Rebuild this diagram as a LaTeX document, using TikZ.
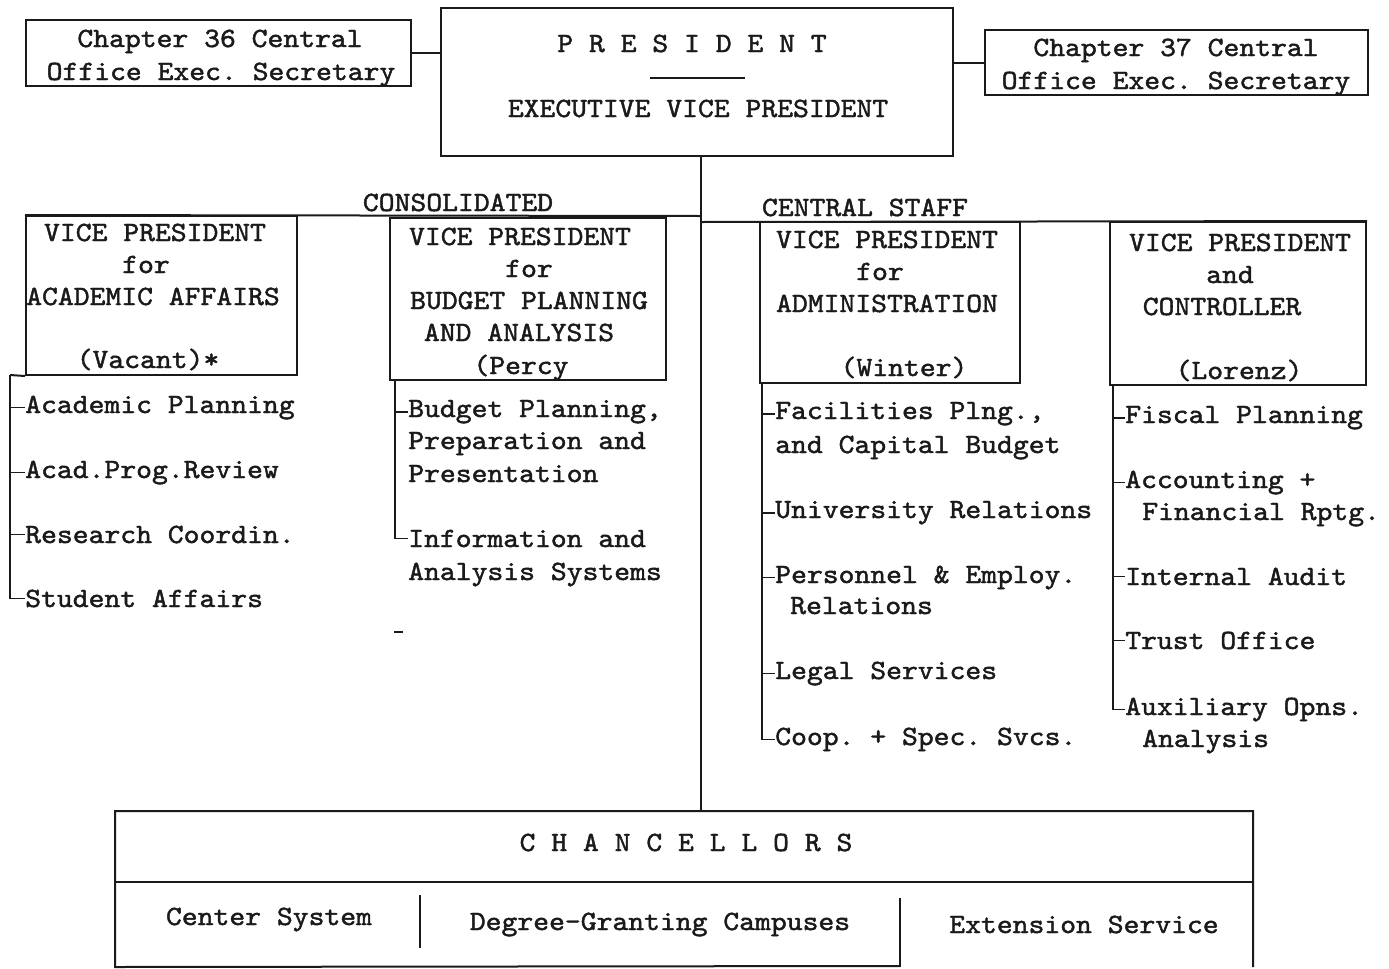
\documentclass[tikz,border=0pt]{standalone}
\usepackage{fontspec}
\newfontfamily\twf{lmmono10-regular}[Extension=.otf, FakeStretch=1.083, FakeBold=1.6]
\usetikzlibrary{fit}
\definecolor{inkc}{HTML}{1A1A1A}
\newcommand\typew{\twf\fontsize{20.9}{24}\selectfont\frenchspacing}
\tikzset{
  ink/.style={draw=inkc, line width=1.5pt},
  box/.style={ink, rectangle, inner sep=0pt},
  t/.style={font=\typew, text=inkc, inner sep=0pt, anchor=base},
  tl/.style={t, anchor=base west},
  tick/.style={draw=inkc, line width=1.3pt},
}
\begin{document}
\frenchspacing
\begin{tikzpicture}[x=0.75pt,y=-0.75pt]
\fill[white] (0,0) rectangle (1389,968);
\useasboundingbox (0,0) rectangle (1389,968);

% top boxes
\node[box, fit={(26,20) (411,86)}] (ch36) {};
\node[t] (ch36a) at (220,47) {Chapter 36 Central};
\node[t] (ch36b) at (221,80) {Office Exec. Secretary};

\node[box, fit={(441,8) (953,156)}] (pres) {};
\node[t] (presa) at (692,52) {P R E S I D E N T};
\draw[ink] (650,78) -- (745,78);
\node[t] (presb) at (698,117) {EXECUTIVE VICE PRESIDENT};

\node[box, fit={(985,30) (1368,95)}] (ch37) {};
\node[t] (ch37a) at (1176,56) {Chapter 37 Central};
\node[t] (ch37b) at (1176,89) {Office Exec. Secretary};

\draw[ink] (ch36.east) -- (ch36.east -| pres.west);
\draw[ink] (ch37.west) -- (ch37.west -| pres.east);

% group labels
\node[t] (cons) at (458,211) {CONSOLIDATED};
\node[t] (cstaff) at (865,216) {CENTRAL STAFF};

% VP boxes
\node[box, fit={(26,216) (297,375)}] (vpa) {};
\node[t] (vpa1) at (155,241) {VICE PRESIDENT};
\node[t] (vpa2) at (146,273) {for};
\node[t] (vpa3) at (153,305) {ACADEMIC AFFAIRS};
\node[t] (vpa4) at (148,368) {(Vacant)*};

\node[box, fit={(390,218) (666,380)}] (vpb) {};
\node[t] (vpb1) at (520,245) {VICE PRESIDENT};
\node[t] (vpb2) at (529,277) {for};
\node[t] (vpb3) at (529,309) {BUDGET PLANNING};
\node[t] (vpb4) at (519,341) {AND ANALYSIS};
\node[t] (vpb5) at (521,374) {(Percy};

\node[box, fit={(760,222) (1020,383)}] (vpc) {};
\node[t] (vpc1) at (887,248) {VICE PRESIDENT};
\node[t] (vpc2) at (880,280) {for};
\node[t] (vpc3) at (887,312) {ADMINISTRATION};
\node[t] (vpc4) at (904,376) {(Winter)};

\node[box, fit={(1110,222) (1366,385)}] (vpd) {};
\node[t] (vpd1) at (1240,251) {VICE PRESIDENT};
\node[t] (vpd2) at (1230,283) {and};
\node[t] (vpd3) at (1222,315) {CONTROLLER};
\node[t] (vpd4) at (1239,379) {(Lorenz)};

% trunk and bars
\coordinate (jl) at (701,216);
\coordinate (jr) at (701,222);
\node[box, draw=none, fit={(116,812) (1252,966)}] (chanc) {};
\draw[ink] (pres.south -| jl) -- (chanc.north -| jl);
\draw[ink] (vpa.north west) -- (jl);
\draw[ink] (jr) -- (vpd.north east);

% list A
\coordinate (la) at (10,375);
\node[tl] (a1) at (25,413) {Academic Planning};
\node[tl] (a2) at (25,478) {Acad.Prog.Review};
\node[tl] (a3) at (25,543) {Research Coordin.};
\node[tl] (a4) at (25,607) {Student Affairs};
\draw[ink] (vpa.south west) -- (la);
\draw[tick] (la) -- (la |- a4.west) -- (a4.west);
\foreach \n in {a1,a2,a3} \draw[tick] (la |- \n.west) -- (\n.west);

% list B
\coordinate (lb) at (395,380);
\node[tl] (b1) at (408,417) {Budget Planning,};
\node[tl] (b1b) at (408,449) {Preparation and};
\node[tl] (b1c) at (408,482) {Presentation};
\node[tl] (b2) at (408,547) {Information and};
\node[tl] (b2b) at (408,580) {Analysis Systems};
\draw[tick] (lb) -- (lb |- b2.west) -- (b2.west);
\draw[tick] (lb |- b1.west) -- (b1.west);
\draw[tick] (394,632) -- (403,632);

% list C
\coordinate (lc) at (762,383);
\node[tl] (c1) at (775,419) {Facilities Plng.,};
\node[tl] (c1b) at (775,453) {and Capital Budget};
\node[tl] (c2) at (775,518) {University Relations};
\node[tl] (c3) at (775,583) {Personnel \& Employ.};
\node[tl] (c3b) at (790,614) {Relations};
\node[tl] (c4) at (775,679) {Legal Services};
\node[tl] (c5) at (775,745) {Coop. + Spec. Svcs.};
\draw[tick] (lc) -- (lc |- c5.west) -- (c5.west);
\foreach \n in {c1,c2,c3,c4} \draw[tick] (lc |- \n.west) -- (\n.west);

% list D
\coordinate (ld) at (1113,385);
\node[tl] (d1) at (1125,423) {Fiscal Planning};
\node[tl] (d2) at (1125,488) {Accounting +};
\node[tl] (d2b) at (1142,520) {Financial Rptg.};
\node[tl] (d3) at (1125,585) {Internal Audit};
\node[tl] (d4) at (1125,649) {Trust Office};
\node[tl] (d5) at (1125,715) {Auxiliary Opns.};
\node[tl] (d5b) at (1142,747) {Analysis};
\draw[tick] (ld) -- (ld |- d5.west) -- (d5.west);
\foreach \n in {d1,d2,d3,d4} \draw[tick] (ld |- \n.west) -- (\n.west);

% chancellors
\draw[ink] (chanc.south east) -- (chanc.north east) -- (chanc.north west) -- (chanc.south west) -- (900,966);
\draw[ink] (chanc.west |- 0,882) -- (chanc.east |- 0,882);
\node[t] (ch) at (686,851) {C H A N C E L L O R S};
\node[t] (cs) at (269,925) {Center System};
\node[t] (dg) at (660,930) {Degree-Granting Campuses};
\node[t] (es) at (1084,933) {Extension Service};
\draw[ink] (420,895) -- (420,948);
\draw[ink] (900,898) -- (chanc.south -| 900,0);
\end{tikzpicture}
\end{document}
